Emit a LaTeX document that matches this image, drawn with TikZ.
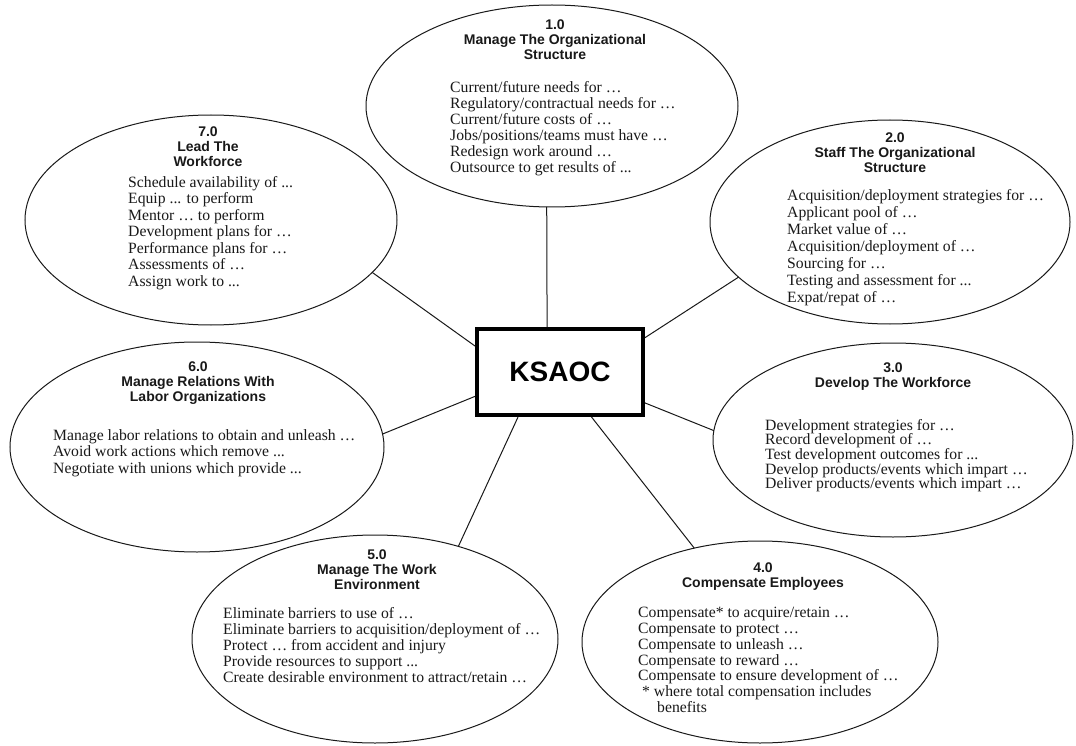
\documentclass[tikz,border=0pt]{standalone}
\usepackage{fontspec}
\setmainfont{Liberation Serif}
\newfontfamily\hdfont{Liberation Sans}
\usetikzlibrary{shapes.geometric}
\begin{document}
\begin{tikzpicture}[x=1pt,y=-1pt,
  bub/.style={draw=black!90, ellipse, line width=1pt, inner sep=0pt, outer sep=0pt},
  hdtxt/.style={font=\hdfont\bfseries\fontsize{14}{15}\selectfont, align=center, inner sep=0pt, anchor=north, text=black!90},
  bodytxt/.style={font=\fontsize{15.7}{#1}\selectfont, align=left, inner sep=0pt, anchor=north west, text=black!90},
  bodytxt/.default={16.5},
  conn/.style={draw=black!90, line width=1pt},
  kbox/.style={draw=black, line width=4pt, minimum width=166pt, minimum height=86pt, inner sep=0pt, font=\hdfont\bfseries\fontsize{28}{30}\selectfont}
]
\useasboundingbox (0,0) rectangle (1076,746);
\fill[white] (0,0) rectangle (1076,746);

% bubbles
\node[bub, minimum width=372pt, minimum height=202pt] (e1) at (552,106) {};
\node[bub, minimum width=360pt, minimum height=204pt] (e2) at (890,222) {};
\node[bub, minimum width=360pt, minimum height=194pt] (e3) at (893,440) {};
\node[bub, minimum width=356pt, minimum height=202pt] (e4) at (760,642) {};
\node[bub, minimum width=366pt, minimum height=208pt] (e5) at (375,639) {};
\node[bub, minimum width=374pt, minimum height=210pt] (e6) at (197,447) {};
\node[bub, minimum width=372pt, minimum height=210pt] (e7) at (211,220) {};

% central box
\node[kbox] (k) at (560,372) {KSAOC};

% connectors
\draw[conn] (k.106) -- (e1.267);
\draw[conn] (k.22.4) -- (e2.200);
\draw[conn] (k.340) -- (e3.177.5);
\draw[conn] (k.305.4) -- (e4.125.2);
\draw[conn] (k.227) -- (e5.48.5);
\draw[conn] (k.196.4) -- (e6.4.6);
\draw[conn] (k.163.6) -- (e7.342.2);

% 1.0
\node[hdtxt] (h1) at (555,20) {1.0\\Manage The Organizational\\Structure};
\node[bodytxt=16] (b1) at (450,81) {Current/future needs for …\\
Regulatory/contractual needs for …\\
Current/future costs of …\\
Jobs/positions/teams must have …\\
Redesign work around …\\
Outsource to get results of ...};

% 2.0
\node[hdtxt] (h2) at (895,133) {2.0\\Staff The Organizational\\Structure};
\node[bodytxt=17] (b2) at (787,189) {Acquisition/deployment strategies for …\\
Applicant pool of …\\
Market value of …\\
Acquisition/deployment of …\\
Sourcing for …\\
Testing and assessment for ...\\
Expat/repat of …};

% 3.0
\node[hdtxt] (h3) at (893,363) {3.0\\Develop The Workforce};
\node[bodytxt=14.6] (b3) at (765,419) {Development strategies for …\\
Record development of …\\
Test development outcomes for ...\\
Develop products/events which impart …\\
Deliver products/events which impart …};

% 4.0
\node[hdtxt] (h4) at (763,563) {4.0\\Compensate Employees};
\node[bodytxt=15.8] (b4) at (638,607) {Compensate* to acquire/retain …\\
Compensate to protect …\\
Compensate to unleash …\\
Compensate to reward …\\
Compensate to ensure development of …\\
\hspace*{4pt}* where total compensation includes\\
\hspace*{19pt}benefits};

% 5.0
\node[hdtxt] (h5) at (377,550) {5.0\\Manage The Work\\Environment};
\node[bodytxt=16] (b5) at (223,607) {Eliminate barriers to use of …\\
Eliminate barriers to acquisition/deployment of …\\
Protect … from accident and injury\\
Provide resources to support ...\\
Create desirable environment to attract/retain …};

% 6.0
\node[hdtxt] (h6) at (198,362) {6.0\\Manage Relations With\\Labor Organizations};
\node[bodytxt=16.5] (b6) at (53,429) {Manage labor relations to obtain and unleash …\\
Avoid work actions which remove ...\\
Negotiate with unions which provide ...};

% 7.0
\node[hdtxt] (h7) at (208,127) {7.0\\Lead The\\Workforce};
\node[bodytxt=16.5] (b7) at (128,176) {Schedule availability of ...\\
Equip ... to perform\\
Mentor … to perform\\
Development plans for …\\
Performance plans for …\\
Assessments of …\\
Assign work to ...};
\end{tikzpicture}
\end{document}
